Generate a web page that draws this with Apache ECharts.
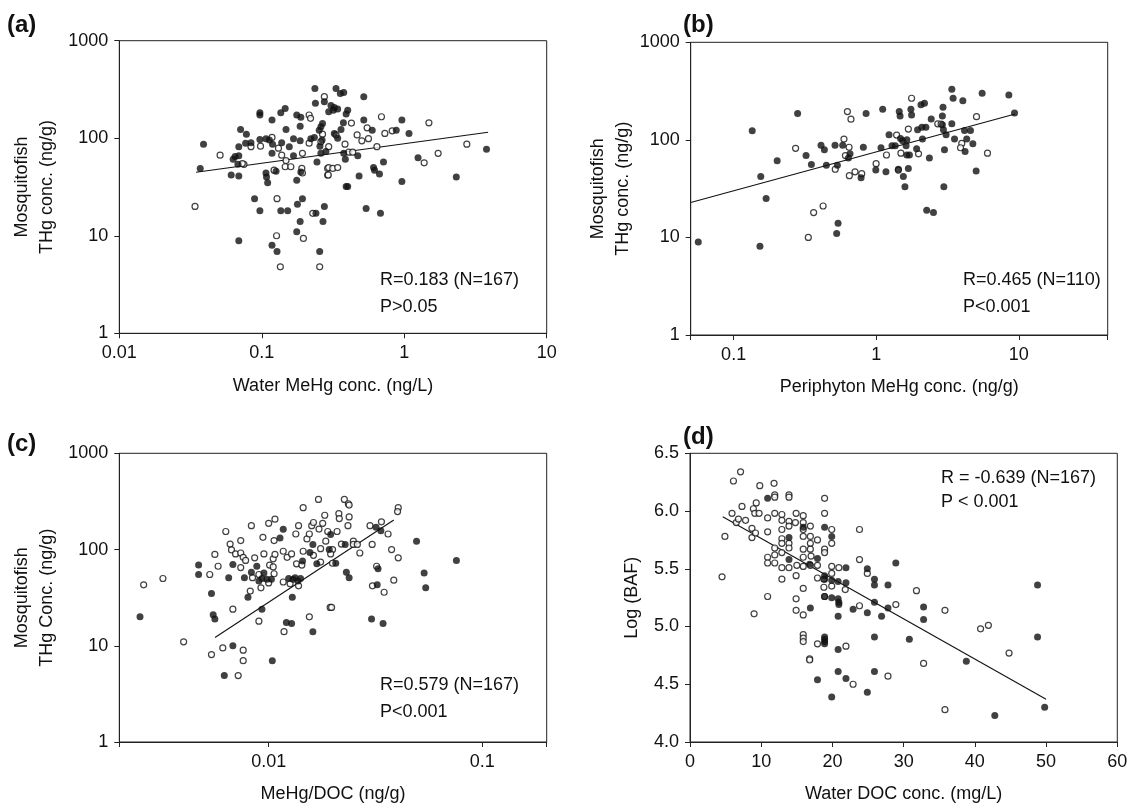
<!DOCTYPE html>
<html>
<head>
<meta charset="utf-8">
<script src="https://cdn.jsdelivr.net/npm/echarts@6/dist/echarts.min.js"></script>
<style>
html, body { margin: 0; padding: 0; background: #fff; }
#main { width: 1131px; height: 808px; }
</style>
</head>
<body>
<div id="main"></div>
<script>
// (a) water MeHg (ng/L) vs mosquitofish THg (ng/g)
var aFilled = [[0.236,324],[0.238,228],[0.275,237],[0.097,183],[0.097,173],[0.136,183],[0.146,202],[0.118,154],[0.176,173],[0.188,164],[0.295,187],[0.071,123],[0.078,110],[0.148,123],[0.186,133],[0.26,131],[0.253,121],[0.267,142],[0.039,87],[0.077,89],[0.084,90],[0.069,82],[0.097,97],[0.107,99],[0.113,96],[0.119,87],[0.138,90],[0.167,99],[0.186,94],[0.221,99],[0.234,102],[0.256,83],[0.156,82],[0.065,65],[0.063,61],[0.069,66],[0.068,54],[0.118,70],[0.167,66],[0.244,57],[0.26,70],[0.037,49],[0.126,46],[0.188,45],[0.061,42],[0.069,41],[0.107,44],[0.108,40],[0.11,35],[0.176,37],[0.089,24],[0.193,24],[0.178,21],[0.097,18],[0.136,18],[0.152,18],[0.24,17],[0.275,20],[0.269,14],[0.186,14],[0.176,11],[0.069,8.9],[0.118,8.0],[0.128,6.9],[0.255,6.9],
  [0.332,324],[0.356,288],[0.376,295],[0.52,267],[0.306,216],[0.318,194],[0.323,206],[0.341,199],[0.401,194],[0.391,177],[0.374,144],[0.36,123],[0.52,154],[0.963,154],[0.596,121],[0.879,121],[1.08,112],[0.323,112],[0.341,100],[0.265,96],[3.78,77],[0.282,73],[0.376,70],[0.472,66],[0.386,61],[1.25,63],[0.715,57],[0.609,50],[0.619,47],[0.67,43],[0.482,41],[0.391,32],[0.401,32],[0.963,36],[2.32,40],[0.54,19],[0.681,17]];
var aOpen = [[0.275,267],[0.215,173],[0.22,160],[0.267,110],[0.084,82],[0.098,83],[0.118,102],[0.215,89],[0.26,92],[0.051,67],[0.075,54],[0.073,55],[0.131,79],[0.138,67],[0.193,70],[0.148,59],[0.146,51],[0.16,51],[0.122,47],[0.191,49],[0.193,44],[0.29,49],[0.29,42],[0.034,20],[0.128,24],[0.228,17],[0.127,10],[0.196,9.4],[0.135,4.8],[0.255,4.8],
  [0.426,143],[0.692,166],[1.49,144],[0.549,128],[0.823,119],[0.731,112],[0.467,108],[0.504,94],[0.561,99],[0.332,108],[0.295,82],[0.384,87],[0.643,82],[2.75,87],[0.408,72],[0.435,72],[1.73,70],[1.38,56],[0.295,50],[0.315,49],[0.341,50],[0.293,42]];
var aFit = [[0.0346,44.8],[3.88,115]];

// (b) periphyton MeHg (ng/g) vs mosquitofish THg
var bFilled = [[0.0565,9.0],[0.135,124],[0.281,186],[0.849,186],[1.11,206],[1.23,113],[0.153,8.1],[0.155,42],[0.169,25],[0.202,61],[0.322,69],[0.351,56],[0.41,88],[0.433,79],[0.447,55],[0.514,88],[0.582,88],[0.655,72],[0.638,65],[0.534,55],[0.812,84],[1.08,83],[1.29,87],[0.993,49],[1.17,47],[0.783,41],[0.54,14],[0.528,11],
  [3.39,330],[3.46,267],[4.05,251],[5.53,301],[8.51,289],[2.06,229],[2.18,238],[1.45,195],[1.47,176],[1.75,206],[1.77,180],[2.94,216],[2.91,176],[9.33,188],[2.43,164],[2.91,143],[3.39,146],[2.09,135],[2.23,135],[1.95,127],[2.96,127],[3.09,113],[4.16,125],[4.58,125],[1.48,103],[1.53,98],[1.64,100],[2.11,102],[1.36,87],[1.62,87],[3.54,102],[4.31,102],[4.2,76],[4.76,91],[1.92,81],[3.01,79],[1.64,70],[1.71,70],[2.36,65],[1.43,50],[1.55,42],[1.68,51],[5.02,48],[1.59,33],[2.98,33],[2.26,19],[2.52,18]];
var bOpen = [[0.628,195],[0.665,163],[0.272,82],[0.594,102],[0.645,84],[0.608,69],[0.516,50],[1.18,70],[0.998,57],[0.648,43],[0.71,47],[0.791,45],[0.364,18],[0.424,21],[0.334,10],
  [1.77,267],[5.05,173],[2.7,146],[2.85,145],[1.68,129],[1.39,112],[3.98,92],[3.9,83],[1.98,72],[1.49,73],[6.03,73],[1.43,49]];
var bFit = [[0.05,22.8],[9.42,184]];

// (c) MeHg/DOC (ng/g) vs mosquitofish THg
var cFilled = [[0.0025,20],[0.0047,69],[0.0047,55],[0.0054,35],[0.0055,21],[0.0056,19],[0.0068,70],[0.0065,51],[0.0077,51],[0.0083,58],[0.0088,67],[0.009,47],[0.0095,57],[0.008,32],[0.0093,50],[0.0098,49],[0.0103,49],[0.0113,132],[0.0117,162],[0.0093,24],[0.0124,50],[0.013,49],[0.0133,51],[0.0137,47],[0.0141,50],[0.0129,32],[0.0121,17.5],[0.0128,17],[0.0144,76],[0.0156,93],[0.0161,113],[0.0168,71],[0.0161,14],[0.0068,10],[0.0062,4.9],[0.0104,7.0],
  [0.0195,143],[0.0192,100],[0.0228,113],[0.0318,170],[0.0335,157],[0.0492,122],[0.0756,77],[0.0206,72],[0.0231,58],[0.0238,51],[0.0325,63],[0.0534,57],[0.0322,43],[0.0543,40],[0.0303,19],[0.0343,17]];
var cOpen = [[0.0026,43],[0.0032,50],[0.004,11],[0.0053,55],[0.0056,89],[0.0058,67],[0.0068,24],[0.0063,154],[0.0066,114],[0.0067,99],[0.007,90],[0.0074,124],[0.0074,92],[0.0076,83],[0.0078,77],[0.0074,65],[0.0083,177],[0.0086,82],[0.0082,37],[0.0084,51],[0.009,55],[0.0092,40],[0.0094,134],[0.0095,90],[0.01,187],[0.0107,207],[0.0101,69],[0.0105,80],[0.0105,66],[0.0106,56],[0.0107,89],[0.01,45],[0.0106,124],[0.0117,96],[0.0122,83],[0.0128,90],[0.009,18],[0.0117,46],[0.0126,44],[0.0138,42],[0.0118,14],[0.0134,145],[0.0138,177],[0.0145,272],[0.0151,129],[0.0155,145],[0.0135,71],[0.0143,69],[0.0145,96],[0.0162,87],[0.0159,177],[0.0162,191],[0.0171,332],[0.0172,163],[0.0183,227],[0.0175,74],[0.0155,20],[0.0194,25],[0.0054,8.1],[0.0061,9.5],[0.0076,9.0],[0.0076,7.0],[0.0072,4.9],[0.0185,122],[0.0175,102],
  [0.0226,332],[0.0236,299],[0.0238,290],[0.0179,187],[0.0213,236],[0.0214,210],[0.0238,218],[0.0235,177],[0.0209,154],[0.0189,154],[0.0199,100],[0.0195,90],[0.0219,114],[0.0249,122],[0.0249,113],[0.026,113],[0.0267,92],[0.0298,177],[0.0337,194],[0.0362,145],[0.0404,272],[0.0401,248],[0.0305,113],[0.0376,100],[0.0404,82],[0.0199,72],[0.032,67],[0.0306,42],[0.0347,36],[0.0385,48],[0.0197,25]];
var cFit = [[0.00561,12.2],[0.0385,203]];

// (d) water DOC (mg/L) vs log BAF
var dFilled = [[10.9,6.11],[13.9,5.77],[13.9,5.58],[15.9,5.86],[16.8,5.54],[16.9,5.16],[17.9,5.59],[17.9,4.54],[18.9,5.86],[19.9,5.78],[18.9,5.44],[18.9,5.41],[18.9,5.26],[18.9,4.91],[18.9,4.89],[18.9,4.87],[18.9,4.85],[19.9,5.4],[19.9,5.25],[19.9,4.39],[20.8,5.39],[20.8,5.24],[20.9,5.21],[20.9,5.19],[20.8,5.09],[20.8,4.8],[20.8,4.61],[21.9,5.51],[21.9,5.38],[21.9,4.55],[22.9,5.15],[24.9,5.5],[24.9,5.12],[25.9,5.41],[25.9,5.36],[25.9,5.21],[25.9,4.91],[25.9,4.61],[24.9,4.43],[27.8,5.36],[27.8,5.16],[26.9,5.09],[28.9,5.55],[32.8,5.17],[32.8,5.06],[30.8,4.89],[38.8,4.7],[48.8,5.36],[48.8,4.91],[49.8,4.3],[42.8,4.23]];
var dOpen = [[4.5,5.43],[4.9,5.78],[5.9,5.98],[6.1,6.26],[7.1,6.34],[6.5,5.9],[6.8,5.93],[7.3,6.04],[7.8,5.92],[8.7,5.85],[8.7,5.77],[8.9,6.02],[9.2,5.81],[9.3,6.07],[9.1,5.98],[9.8,6.22],[9.7,5.98],[9.0,5.11],[10.9,5.82],[10.9,5.94],[11.8,6.24],[11.9,6.14],[11.9,6.12],[11.9,5.98],[10.9,5.6],[10.9,5.55],[11.9,5.68],[11.9,5.62],[11.9,5.55],[10.9,5.26],[12.9,5.97],[12.9,5.92],[12.9,5.84],[12.9,5.76],[12.9,5.72],[12.9,5.64],[12.9,5.51],[12.9,5.41],[13.9,6.14],[13.9,6.12],[13.9,5.91],[13.9,5.87],[13.9,5.72],[13.9,5.68],[13.9,5.51],[14.9,5.98],[14.8,5.9],[15.9,5.96],[15.9,5.9],[15.9,5.84],[15.9,5.78],[15.9,5.67],[15.9,5.6],[15.9,5.52],[15.0,5.53],[14.9,5.44],[14.9,5.24],[14.9,5.14],[15.9,5.33],[15.9,5.1],[15.9,4.93],[15.9,4.9],[15.9,4.87],[16.9,5.87],[16.9,5.78],[16.9,5.72],[16.9,5.67],[17.0,5.61],[16.9,5.53],[16.8,4.72],[16.8,4.71],[17.9,5.75],[17.9,5.53],[17.9,5.42],[17.9,4.85],[18.9,6.11],[18.9,5.98],[18.9,5.67],[18.9,5.64],[19.9,5.84],[19.9,5.72],[18.8,5.41],[18.8,5.34],[18.9,5.26],[19.9,5.52],[19.9,5.46],[19.9,5.35],[20.9,5.51],[21.8,5.32],[21.9,4.83],[22.9,4.5],[23.8,5.84],[23.8,5.58],[23.8,5.18],[24.9,5.46],[27.8,4.57],
  [28.9,5.19],[31.8,5.31],[35.8,5.14],[32.8,4.68],[35.8,4.28],[40.8,4.98],[41.9,5.01],[44.8,4.77]];
var dFit = [[4.6,5.95],[50,4.37]];

var notes = [
  ['R=0.183 (N=167)', 'P>0.05'],
  ['R=0.465 (N=110)', 'P<0.001'],
  ['R=0.579 (N=167)', 'P<0.001'],
  ['R = -0.639 (N=167)', 'P < 0.001']
];

var FONT = 'Arial, "Liberation Sans", Helvetica, sans-serif';
var INK = '#111';
var LINE = '#222';

function powLabel(v) {
  var l = Math.log(v) / Math.LN10;
  if (Math.abs(l - Math.round(l)) > 1e-6) return '';
  return String(+v.toPrecision(6));
}

function axisBase(idx) {
  return {
    gridIndex: idx,
    axisLine: { lineStyle: { color: LINE, width: 1 } },
    axisTick: { length: 5, lineStyle: { color: LINE, width: 1 } },
    axisLabel: { color: INK, fontSize: 18, fontFamily: FONT, margin: 11 },
    splitLine: { show: false },
    nameTextStyle: { color: INK, fontSize: 18, fontFamily: FONT, lineHeight: 25 },
    nameLocation: 'middle'
  };
}

function logAxis(idx, min, max, name, gap) {
  var ax = axisBase(idx);
  ax.type = 'log';
  ax.logBase = 10;
  ax.min = min;
  ax.max = max;
  ax.name = name;
  ax.nameGap = gap;
  ax.axisLabel.formatter = powLabel;
  return ax;
}

function valAxis(idx, min, max, step, name, gap, digits) {
  var ax = axisBase(idx);
  ax.type = 'value';
  ax.min = min;
  ax.max = max;
  ax.interval = step;
  ax.name = name;
  ax.nameGap = gap;
  ax.axisLabel.formatter = function (v) { return v.toFixed(digits); };
  return ax;
}

function pts(idx, data, open) {
  return {
    type: 'scatter',
    xAxisIndex: idx,
    yAxisIndex: idx,
    data: data,
    symbol: 'circle',
    symbolSize: open ? 6 : 7,
    itemStyle: open ? { color: '#fff', borderColor: INK, borderWidth: 1.2 } : { color: INK },
    silent: true
  };
}

function fit(idx, data) {
  return {
    type: 'line',
    xAxisIndex: idx,
    yAxisIndex: idx,
    data: data,
    symbol: 'none',
    lineStyle: { color: INK, width: 1.1 },
    silent: true,
    z: 1
  };
}

function txt(x, y, s, bold, size) {
  return {
    type: 'text',
    x: x,
    y: y,
    silent: true,
    style: {
      text: s,
      fill: INK,
      font: (bold ? 'bold ' : '') + size + 'px ' + FONT,
      verticalAlign: 'middle'
    }
  };
}

var gridBox = { show: true, borderColor: LINE, borderWidth: 1, backgroundColor: 'transparent' };

var myChart = echarts.init(document.getElementById('main'));
var option = {
  animation: false,
  backgroundColor: '#fff',
  grid: [
    Object.assign({ left: 119.3, top: 40.7, right: 584.3, bottom: 474.7 }, gridBox),
    Object.assign({ left: 690.7, top: 42.3, right: 23.3, bottom: 473 }, gridBox),
    Object.assign({ left: 119.3, top: 453.3, right: 584.3, bottom: 63 }, gridBox),
    Object.assign({ left: 690, top: 453.3, right: 13.7, bottom: 61.3 }, gridBox)
  ],
  xAxis: [
    logAxis(0, 0.01, 10, 'Water MeHg conc. (ng/L)', 40),
    logAxis(1, 0.05, 42, 'Periphyton MeHg conc. (ng/g)', 40),
    logAxis(2, 0.002, 0.2, 'MeHg/DOC (ng/g)', 40),
    valAxis(3, 0, 60, 10, 'Water DOC conc. (mg/L)', 40, 0)
  ],
  yAxis: [
    logAxis(0, 1, 1000, 'Mosquitofish\nTHg conc. (ng/g)', 60),
    logAxis(1, 1, 1000, 'Mosquitofish\nTHg conc. (ng/g)', 52),
    logAxis(2, 1, 1000, 'Mosquitofish\nTHg Conc. (ng/g)', 60),
    valAxis(3, 4, 6.5, 0.5, 'Log (BAF)', 45, 1)
  ],
  series: [
    fit(0, aFit), pts(0, aOpen, true), pts(0, aFilled, false),
    fit(1, bFit), pts(1, bOpen, true), pts(1, bFilled, false),
    fit(2, cFit), pts(2, cOpen, true), pts(2, cFilled, false),
    fit(3, dFit), pts(3, dOpen, true), pts(3, dFilled, false)
  ],
  graphic: [
    txt(7, 25, '(a)', true, 24),
    txt(683, 25, '(b)', true, 24),
    txt(7, 444, '(c)', true, 24),
    txt(683, 437, '(d)', true, 24),
    txt(380, 280, notes[0][0], false, 18),
    txt(380, 307, notes[0][1], false, 18),
    txt(963, 280, notes[1][0], false, 18),
    txt(963, 307, notes[1][1], false, 18),
    txt(380, 685, notes[2][0], false, 18),
    txt(380, 712, notes[2][1], false, 18),
    txt(941, 478, notes[3][0], false, 18),
    txt(941, 502, notes[3][1], false, 18)
  ]
};
myChart.setOption(option);
</script>
</body>
</html>
